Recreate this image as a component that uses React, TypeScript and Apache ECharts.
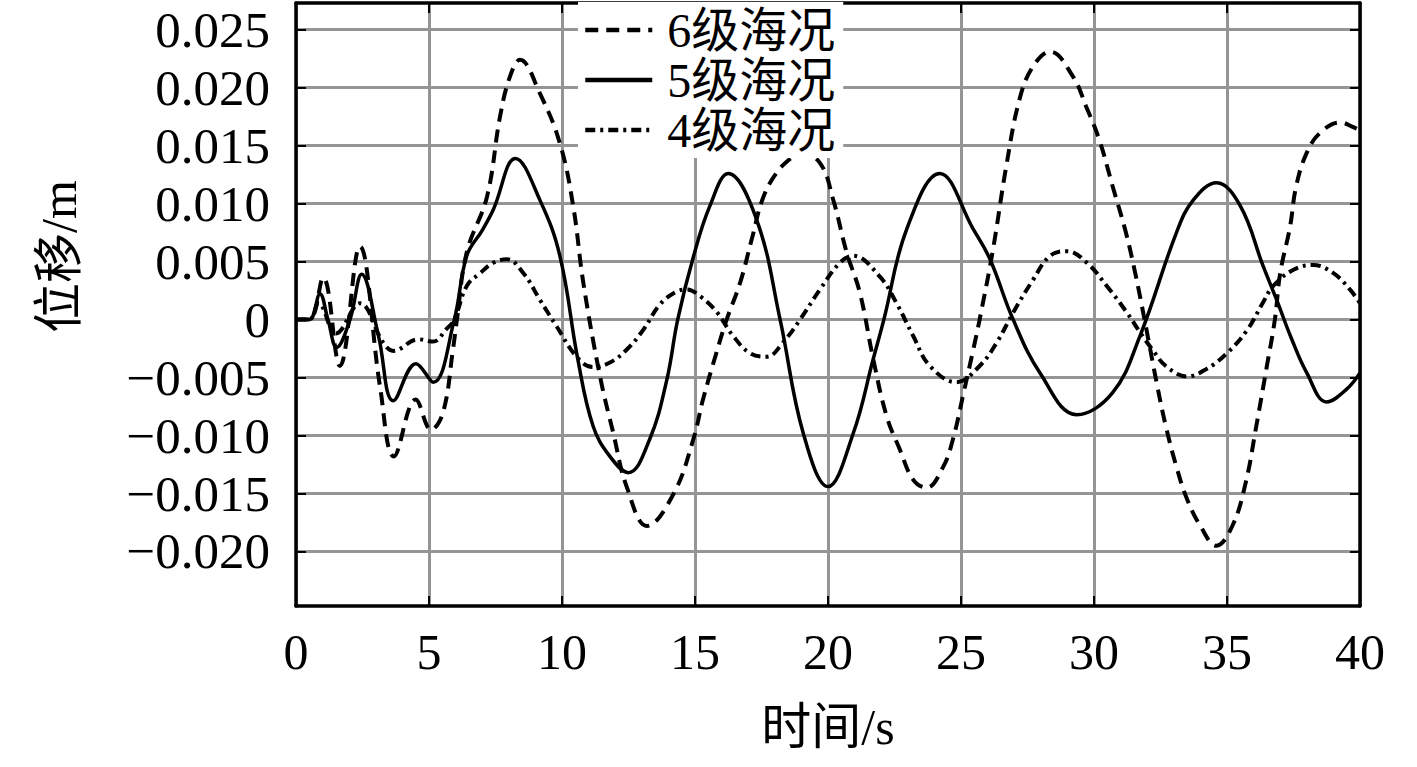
import React, { useEffect, useRef } from "react";
import * as echarts from "echarts";

const seriesNames = ["6级海况", "5级海况", "4级海况"];

const xTicksMax = 40;
const xInterval = 5;
const yTicks = [-0.02, -0.015, -0.01, -0.005, 0, 0.005, 0.01, 0.015, 0.02, 0.025];
const yMin = -0.0247;
const yMax = 0.0273;

const sea6: [number, number][] = [
  [0, 0], [0.5, 0], [1.02, 0.0036], [1.65, -0.004], [2.4, 0.0063], [3.16, -0.0058], [3.68, -0.0118],
  [4.5, -0.0069], [5.08, -0.0095], [5.53, -0.008], [5.9, -0.0026], [6.05, 0], [6.42, 0.0058],
  [7.18, 0.0106], [7.67, 0.0175], [8.05, 0.021], [8.42, 0.0224], [9.17, 0.0195], [9.92, 0.0152],
  [10.42, 0.0098], [10.8, 0.0032], [11.43, -0.0049], [11.93, -0.0098], [12.43, -0.0144],
  [13.2, -0.0178], [14.2, -0.015], [14.94, -0.0103], [15.3, -0.0069], [15.8, -0.0029], [16.19, 0],
  [16.7, 0.0032], [17.13, 0.0069], [17.56, 0.0105], [18.08, 0.0127], [18.7, 0.0141], [18.95, 0.0144],
  [19.7, 0.0135], [20.2, 0.0103], [20.7, 0.0058], [21.2, 0.0023], [21.7, -0.0034], [22.2, -0.0083],
  [22.7, -0.0112], [23.2, -0.0138], [23.7, -0.0145], [24.33, -0.0127], [24.7, -0.0103], [25.1, -0.0063],
  [25.46, -0.0026], [25.7, 0], [26.2, 0.006], [26.7, 0.0132], [27.2, 0.019], [27.7, 0.0218],
  [28.35, 0.0231], [29.2, 0.021], [29.7, 0.0184], [30.2, 0.0155], [30.7, 0.0115], [31.2, 0.0075],
  [31.55, 0.004], [31.9, 0], [32.36, -0.0055], [32.7, -0.0092], [33.1, -0.0127], [33.5, -0.0155],
  [34.0, -0.0178], [34.6, -0.0195], [35.2, -0.0178], [35.7, -0.0141], [36.1, -0.0092], [36.5, -0.004],
  [36.8, 0], [37.0, 0.004], [37.37, 0.008], [37.6, 0.0115], [38.0, 0.0144], [38.5, 0.0161],
  [39.25, 0.017], [39.75, 0.0166], [40, 0.0163],
];

const sea5: [number, number][] = [
  [0, 0], [0.5, 0], [0.9, 0.0022], [1.2, 0], [1.53, -0.0024], [2.03, 0], [2.47, 0.0039], [3.1, -0.0014],
  [3.66, -0.007], [4.51, -0.0038], [5.16, -0.0054], [5.95, 0], [6.42, 0.0055], [7.0, 0.0077],
  [7.42, 0.0095], [8.25, 0.0139], [9.17, 0.0103], [9.92, 0.0055], [10.6, -0.0035], [11.17, -0.0092],
  [11.8, -0.0118], [12.49, -0.0132], [13.3, -0.0103], [13.94, -0.0052], [14.35, 0], [14.95, 0.0055],
  [15.56, 0.0098], [16.25, 0.0126], [17.32, 0.0086], [18.2, 0], [19.07, -0.0098], [20.0, -0.0144],
  [20.95, -0.0098], [21.7, -0.0034], [22.1, 0], [22.96, 0.0078], [24.2, 0.0126], [25.46, 0.0078],
  [26.09, 0.0052], [26.96, 0], [27.97, -0.0046], [29.35, -0.0082], [30.7, -0.0063], [31.73, -0.0014],
  [33.1, 0.0075], [33.73, 0.0103], [34.61, 0.0118], [35.5, 0.0098], [36.36, 0.0046], [36.9, 0.0015],
  [37.4, -0.0015], [38.0, -0.0046], [38.75, -0.0071], [39.5, -0.006], [40, -0.0046],
];

const sea4: [number, number][] = [
  [0, 0], [0.5, 0], [0.85, 0.0014], [1.5, -0.0012], [2.4, 0.0014], [3.28, -0.002], [3.66, -0.0027],
  [4.6, -0.0017], [5.15, -0.0019], [5.66, -0.0008], [5.95, 0], [6.42, 0.0029], [6.92, 0.004],
  [7.42, 0.0049], [7.93, 0.0052], [8.55, 0.004], [9.17, 0.0017], [9.8, -0.0006], [10.55, -0.0032],
  [11.17, -0.0041], [11.8, -0.0037], [12.43, -0.0026], [13.05, -0.0009], [13.68, 0.0013], [14.3, 0.0024],
  [14.7, 0.0026], [15.2, 0.002], [15.8, 0.0007], [16.43, -0.0014], [17.07, -0.0029], [17.7, -0.0032],
  [18.3, -0.002], [18.95, 0], [19.7, 0.0026], [20.45, 0.0049], [20.95, 0.0055], [21.95, 0.0037],
  [22.58, 0.0014], [23.2, -0.0014], [23.83, -0.004], [24.83, -0.0054], [25.7, -0.004], [26.34, -0.002],
  [26.96, 0.0006], [27.7, 0.0034], [28.35, 0.0055], [28.98, 0.0059], [29.73, 0.0049], [30.48, 0.0029],
  [31.24, 0.0006], [31.73, -0.0011], [32.2, -0.0026], [32.7, -0.004], [33.5, -0.0049], [34.2, -0.0043],
  [35.0, -0.0029], [35.76, -0.0009], [36.36, 0.0015], [36.74, 0.0029], [37.5, 0.0043], [38.24, 0.0047],
  [39.0, 0.004], [39.62, 0.0026], [40, 0.0014],
];

const FONT = "'Liberation Serif', 'Times New Roman', 'Noto Sans CJK SC', serif";

function fmtY(v: number): string {
  if (Math.abs(v) < 1e-9) return "0";
  return (v < 0 ? "\u2212" : "") + Math.abs(v).toFixed(3);
}

export default function App() {
  const ref = useRef<HTMLDivElement>(null);
  useEffect(() => {
    if (!ref.current) return;
    const chart = echarts.init(ref.current, undefined, { renderer: "svg" });
    const tickStyle = { show: true, inside: true, length: 10, lineStyle: { color: "#000", width: 2 } };
    const axisLine = { show: true, onZero: false, lineStyle: { color: "#000", width: 3.5 } };
    const gridLine = { show: true, lineStyle: { color: "#959595", width: 3 } };
    chart.setOption({
      animation: false,
      backgroundColor: "#fff",
      grid: { left: 296, right: 57, top: 3, bottom: 161, containLabel: false },
      legend: {
        orient: "vertical",
        left: 578,
        top: 2,
        padding: [4, 8, 4, 5],
        backgroundColor: "#fff",
        itemWidth: 67,
        itemHeight: 14,
        itemGap: 2,
        data: seriesNames,
        itemStyle: { opacity: 0 },
        lineStyle: { width: 4.5 },
        textStyle: { fontFamily: FONT, fontSize: 48, color: "#000", lineHeight: 44, padding: [0, 0, 0, 10] },
      },
      xAxis: [
        {
          type: "value",
          min: 0,
          max: xTicksMax,
          interval: xInterval,
          position: "bottom",
          axisLine,
          axisTick: tickStyle,
          splitLine: gridLine,
          axisLabel: { color: "#000", fontFamily: FONT, fontSize: 50, margin: 21 },
          name: "时间/s",
          nameLocation: "middle",
          nameGap: 96,
          nameTextStyle: { color: "#000", fontFamily: FONT, fontSize: 50 },
        },
        {
          type: "value",
          min: 0,
          max: xTicksMax,
          interval: xInterval,
          position: "top",
          axisLine,
          axisTick: tickStyle,
          splitLine: { show: false },
          axisLabel: { show: false },
        },
      ],
      yAxis: [
        {
          type: "value",
          min: yMin,
          max: yMax,
          position: "left",
          axisLine,
          axisTick: { ...tickStyle, customValues: yTicks },
          splitLine: gridLine,
          axisLabel: {
            customValues: yTicks,
            color: "#000",
            fontFamily: FONT,
            fontSize: 51,
            margin: 26,
            formatter: (v: number) => fmtY(v),
          },
          name: "位移/m",
          nameLocation: "middle",
          nameGap: 212,
          nameTextStyle: { color: "#000", fontFamily: FONT, fontSize: 50, padding: [0, 0, 0, 96] },
        },
        {
          type: "value",
          min: yMin,
          max: yMax,
          position: "right",
          axisLine,
          axisTick: { ...tickStyle, customValues: yTicks },
          splitLine: { show: false },
          axisLabel: { show: false, customValues: yTicks },
        },
      ],
      series: [
        {
          name: seriesNames[0],
          type: "line",
          data: sea6,
          smooth: 0.4,
          symbol: "none",
          lineStyle: { color: "#000", width: 4, type: [13, 8] },
          itemStyle: { color: "#000" },
        },
        {
          name: seriesNames[1],
          type: "line",
          data: sea5,
          smooth: 0.4,
          symbol: "none",
          lineStyle: { color: "#000", width: 3.5, type: "solid" },
          itemStyle: { color: "#000" },
        },
        {
          name: seriesNames[2],
          type: "line",
          data: sea4,
          smooth: 0.4,
          symbol: "none",
          lineStyle: { color: "#000", width: 4, type: [10, 5, 3, 5] },
          itemStyle: { color: "#000" },
        },
      ],
    });
    return () => chart.dispose();
  }, []);
  return (
    <div
      ref={ref}
      style={{ position: "fixed", left: 0, top: 0, width: 1417, height: 767, background: "#fff" }}
    />
  );
}
